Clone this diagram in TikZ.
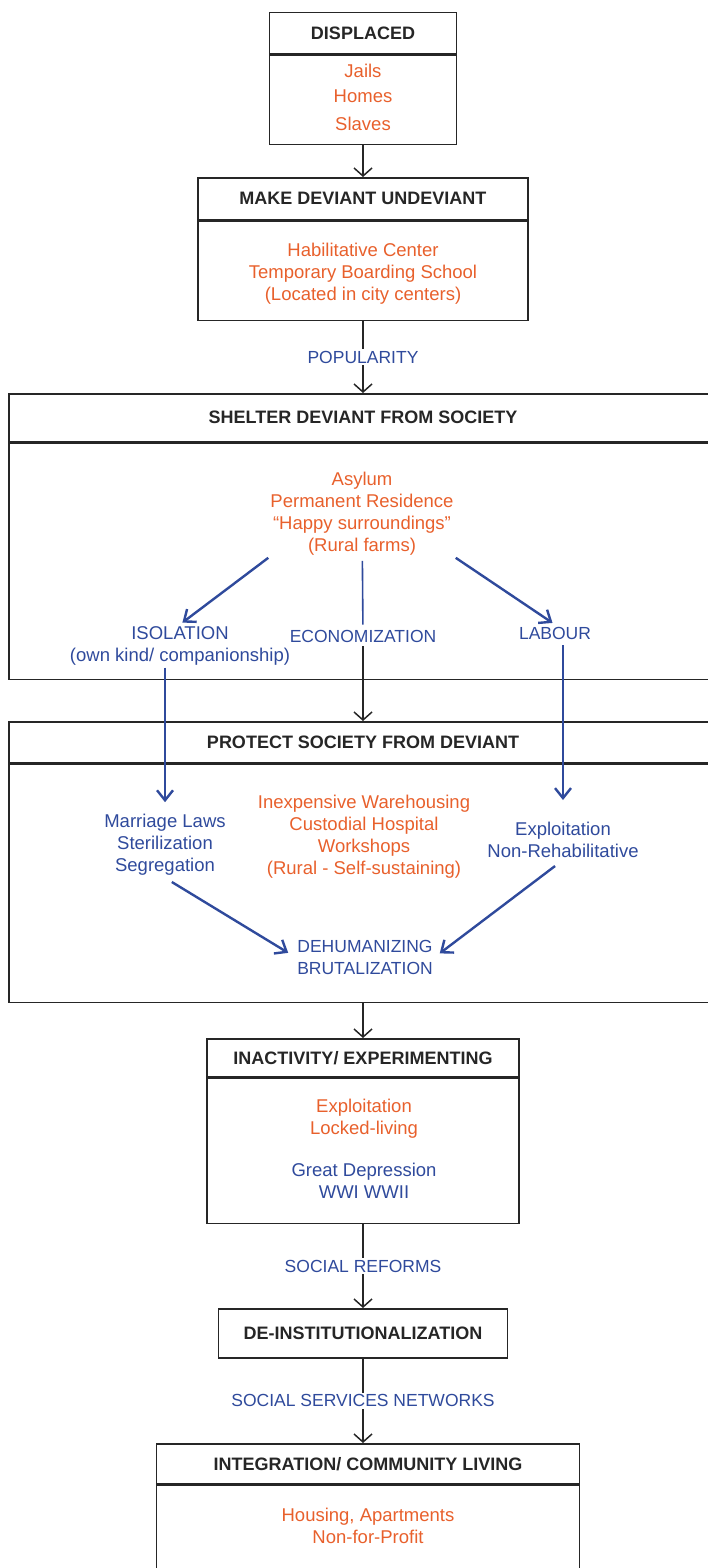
\documentclass[tikz,border=0pt]{standalone}
\usepackage{fontspec}
\setmainfont{Liberation Sans}
\usetikzlibrary{arrows.meta}
\definecolor{ink}{HTML}{262626}
\definecolor{rust}{HTML}{E8602C}
\definecolor{navy}{HTML}{2F4A9C}

\tikzset{
  head/.style={draw=ink, line width=1.5pt, inner sep=0pt, anchor=north,
    font=\fontsize{18}{21}\selectfont\bfseries, text=ink},
  body/.style={draw=ink, line width=1.5pt, inner sep=0pt, anchor=north},
  item/.style={align=center, inner sep=2pt, font=\fontsize{18.5}{22}\selectfont},
  warm/.style={item, text=rust},
  cool/.style={item, text=navy},
  tag/.style={cool, font=\fontsize{17.5}{22}\selectfont},
  flow/.style={-{Straight Barb[length=8pt,width=18pt]}, draw=ink, line width=1.5pt},
  bluearrow/.style={-{Straight Barb[length=10pt,width=16pt]}, draw=navy, line width=2.4pt},
  blueline/.style={draw=navy, line width=1.6pt}
}

\begin{document}
\begin{tikzpicture}[x=1pt, y=-1pt]
\useasboundingbox (0,0) rectangle (708,1568);
\clip (0,0) rectangle (708,1568);

% boxes
\node[head, minimum width=187pt, minimum height=41pt] (disphead) at (363,12) {DISPLACED};
\node[body, minimum width=187pt, minimum height=89pt] (dispbody) at (disphead.south) {};
\node[head, minimum width=330pt, minimum height=42pt] (makehead) at (363,177) {MAKE DEVIANT UNDEVIANT};
\node[body, minimum width=330pt, minimum height=99pt] (makebody) at (makehead.south) {};
\node[head, minimum width=708pt, minimum height=48pt] (shelhead) at (363,393) {SHELTER DEVIANT FROM SOCIETY};
\node[body, minimum width=708pt, minimum height=236pt] (shelbody) at (shelhead.south) {};
\node[head, minimum width=708pt, minimum height=41pt] (prothead) at (363,721) {PROTECT SOCIETY FROM DEVIANT};
\node[body, minimum width=708pt, minimum height=238pt] (protbody) at (prothead.south) {};
\node[head, minimum width=312pt, minimum height=38pt] (inachead) at (363,1038) {INACTIVITY/ EXPERIMENTING};
\node[body, minimum width=312pt, minimum height=145pt] (inacbody) at (inachead.south) {};
\node[head, minimum width=289pt, minimum height=49pt] (deinst) at (363,1308) {DE-INSTITUTIONALIZATION};
\node[head, minimum width=423pt, minimum height=40pt] (integhead) at (368,1443) {INTEGRATION/ COMMUNITY LIVING};
\node[body, minimum width=423pt, minimum height=160pt] (integbody) at (integhead.south) {};

% texts
\node[warm, font=\fontsize{18.5}{25}\selectfont] (jails) at (363,97) {Jails\\Homes\\[3pt]Slaves};
\node[warm] (habil) at (363,274) {Habilitative Center\\Temporary Boarding School\\(Located in city centers)};
\node[warm] (asylum) at (362,514) {Asylum\\Permanent Residence\\“Happy surroundings”\\(Rural farms)};
\node[cool] (isol) at (180,646) {ISOLATION\\(own kind/ companionship)};
\node[tag] (econ) at (363,636) {ECONOMIZATION};
\node[tag] (labour) at (555,633) {LABOUR};
\node[cool] (marr) at (165,845) {Marriage Laws\\Sterilization\\Segregation};
\node[warm] (wareh) at (364,837) {Inexpensive Warehousing\\Custodial Hospital\\Workshops\\(Rural - Self-sustaining)};
\node[cool] (expl) at (563,840) {Exploitation\\Non-Rehabilitative};
\node[tag] (dehum) at (365,957) {DEHUMANIZING\\BRUTALIZATION};
\node[warm] (locked) at (364,1119) {Exploitation\\Locked-living};
\node[cool] (depr) at (364,1181) {Great Depression\\WWI WWII};
\node[warm] (housing) at (368,1526) {Housing, Apartments\\Non-for-Profit};

% connectors
\draw[flow] (dispbody) -- (makehead);
\draw[flow] (makebody) -- node[tag, fill=white] {POPULARITY} (shelhead);
\draw[bluearrow, shorten >=3pt] (asylum.south west) -- (isol.north);
\draw[blueline, shorten <=3pt, shorten >=3pt] (asylum) -- (econ);
\draw[bluearrow, shorten >=3pt] (asylum.south east) -- (labour.north);
\draw[bluearrow, shorten >=10pt] (isol.south -| marr.north) -- (marr.north);
\draw[flow, shorten <=2pt] (econ) -- (prothead);
\draw[bluearrow, shorten <=4pt, shorten >=20pt] (labour.south -| expl.north) -- (expl.north);
\draw[bluearrow, shorten <=8pt, shorten >=8pt] (marr.south) -- (dehum.west);
\draw[bluearrow, shorten <=10pt, shorten >=6pt] (expl.south) -- (dehum.east);
\draw[flow] (protbody) -- (inachead);
\draw[flow] (inacbody) -- node[tag, fill=white] {SOCIAL REFORMS} (deinst);
\draw[flow] (deinst.south) -- node[tag, fill=white] {SOCIAL SERVICES NETWORKS} (deinst.south |- integhead.north);
\end{tikzpicture}
\end{document}
